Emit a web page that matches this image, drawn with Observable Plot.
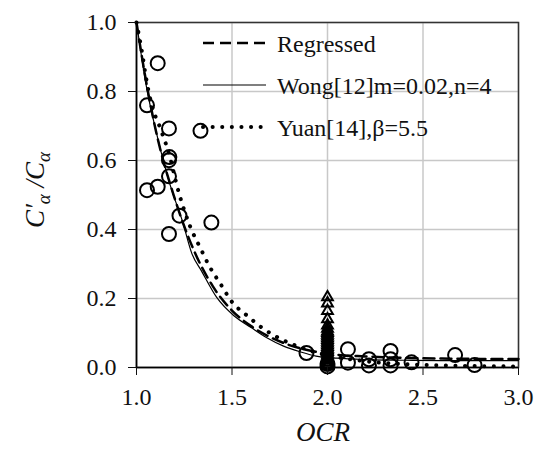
<!DOCTYPE html>
<html><head><meta charset="utf-8">
<script src="https://cdn.jsdelivr.net/npm/d3@7"></script>
<script src="https://cdn.jsdelivr.net/npm/@observablehq/plot@0.6"></script>
<style>body{margin:0;background:#fff} #chart{width:536px;height:455px} svg text{font-family:'Liberation Serif','Times New Roman',serif}</style>
</head><body><div id="chart"></div>
<script>
// Measured circles (OCR, ratio)
const circleX = [1.111,1.055,1.170,1.335,1.170,1.172,1.170,1.055,1.111,1.225,1.170,1.392,1.890,2.107,2.107,2.217,2.217,2.330,2.330,2.330,2.440,2.668,2.770,2.0,2.0];
const circleY = [0.882,0.760,0.693,0.686,0.601,0.610,0.554,0.514,0.524,0.440,0.387,0.420,0.042,0.053,0.014,0.024,0.006,0.048,0.024,0.006,0.015,0.036,0.007,0.010,0.003];
// Measured triangles at OCR = 2.0
const triX = [2.0,2.0,2.0,2.0,2.0,2.0,2.0,2.0,2.0,2.0,2.0,2.0,2.0,2.0,2.0,2.0,2.0,2.0,2.0,2.0,2.0,2.0,2.0,2.0,2.0,2.0,2.0];
const triY = [0.204,0.186,0.164,0.140,0.122,0.113,0.105,0.100,0.095,0.090,0.085,0.080,0.075,0.070,0.065,0.060,0.055,0.050,0.045,0.040,0.035,0.030,0.025,0.020,0.015,0.010,0.005];
// Curves
const regX = [1.0,1.05,1.1,1.2,1.3,1.4,1.5,1.6,1.7,1.8,1.9,2.0,2.2,2.4,2.6,2.8,3.0];
const regY = [1.0,0.83,0.69,0.49,0.34,0.235,0.165,0.12,0.088,0.065,0.05,0.04,0.032,0.028,0.026,0.025,0.025];
const wongX = [1.0,1.05,1.11,1.18,1.24,1.29,1.34,1.42,1.51,1.60,1.68,1.77,1.86,1.94,2.05,2.2,2.4,2.6,2.8,3.0];
const wongY = [1.0,0.82,0.667,0.522,0.425,0.33,0.28,0.203,0.15,0.116,0.087,0.062,0.045,0.033,0.027,0.023,0.021,0.020,0.020,0.020];
const yuanX = [1.0,1.03,1.05,1.08,1.12,1.17,1.22,1.28,1.34,1.38,1.44,1.5,1.58,1.66,1.75,1.85,1.95,2.05,2.2,2.4,2.6,2.8,3.0];
const yuanY = [1.0,0.91,0.84,0.76,0.70,0.62,0.51,0.41,0.34,0.295,0.242,0.19,0.15,0.114,0.084,0.06,0.042,0.03,0.018,0.01,0.006,0.004,0.003];
const xTicks = [1.0,1.5,2.0,2.5,3.0];
const yTicks = [0.0,0.2,0.4,0.6,0.8,1.0];
const legendLabels = ["Regressed","Wong[12]m=0.02,n=4","Yuan[14],β=5.5"];

const circles = circleX.map((x,i)=>({x, y: circleY[i]}));
const tris = triX.map((x,i)=>({x, y: triY[i]}));
const reg = regX.map((x,i)=>({x, y: regY[i]}));
const wong = wongX.map((x,i)=>({x, y: wongY[i]}));
const yuan = yuanX.map((x,i)=>({x, y: yuanY[i]}));

const serif = "'Liberation Serif', 'Times New Roman', serif";
const W = 536, H = 455;
const plot = Plot.plot({
  width: W, height: H,
  marginLeft: 136, marginRight: 18, marginTop: 22, marginBottom: 88,
  style: {fontFamily: serif, fontSize: "24px", color: "#111", background: "#fff"},
  x: {domain: [1,3]},
  y: {domain: [0,1]},
  marks: [
    Plot.gridX(xTicks, {stroke: "#c8c8c8", strokeOpacity: 1, strokeWidth: 1.5}),
    Plot.gridY(yTicks, {stroke: "#c8c8c8", strokeOpacity: 1, strokeWidth: 1.5}),
    Plot.frame({stroke: "#333", strokeWidth: 1.5}),
    Plot.line(reg, {x: "x", y: "y", curve: "monotone-x", stroke: "#000", strokeWidth: 2.5, strokeDasharray: "11,6"}),
    Plot.line(wong, {x: "x", y: "y", curve: "monotone-x", stroke: "#000", strokeWidth: 1.2}),
    Plot.line(yuan, {x: "x", y: "y", curve: "monotone-x", stroke: "#000", strokeWidth: 4, strokeDasharray: "0.1,9.5", strokeLinecap: "round"}),
    Plot.dot(tris, {x: "x", y: "y", symbol: "triangle", r: 4, stroke: "#000", strokeWidth: 2, fill: "none"}),
    Plot.dot(circles, {x: "x", y: "y", r: 7, stroke: "#000", strokeWidth: 2, fill: "none"}),
    Plot.ruleX([1], {stroke: "#000", strokeWidth: 1.5}),
    Plot.ruleY([0], {stroke: "#000", strokeWidth: 1.5}),
    Plot.axisX({ticks: xTicks, tickFormat: d3.format(".1f"), tickSize: 8, tickPadding: 12, label: null, fontSize: 24, fontFamily: serif}),
    Plot.axisY({ticks: yTicks, tickFormat: d3.format(".1f"), tickSize: 8, tickPadding: 12, label: null, fontSize: 24, fontFamily: serif})
  ]
});
document.getElementById("chart").appendChild(plot);

const svg = d3.select(plot);
// Legend
const lg = svg.append("g").attr("font-family", serif).attr("font-size", 24).attr("fill", "#111").attr("text-anchor", "start");
const ly = [43, 85, 127];
const styles = [
  {w: 2.5, dash: "11,6", cap: "butt"},
  {w: 1.2, dash: null, cap: "butt"},
  {w: 4, dash: "0.1,9.5", cap: "round"}
];
legendLabels.forEach((t,i)=>{
  const l = lg.append("line").attr("x1", 203).attr("x2", 266).attr("y1", ly[i]).attr("y2", ly[i])
    .attr("stroke", "#000").attr("stroke-width", styles[i].w).attr("stroke-linecap", styles[i].cap);
  if (styles[i].dash) l.attr("stroke-dasharray", styles[i].dash);
  lg.append("text").attr("x", 277).attr("y", ly[i] + 9).attr("text-anchor", "start").text(t);
});
// X label
svg.append("text").attr("x", 323).attr("y", 441).attr("text-anchor", "middle")
  .attr("font-family", serif).attr("font-style", "italic").attr("font-size", 27).attr("fill", "#111").text("OCR");
// Y label
const yl = svg.append("text").attr("transform", "translate(44,190) rotate(-90)").attr("text-anchor", "middle")
  .attr("font-family", serif).attr("font-style", "italic").attr("font-size", 27).attr("fill", "#111");
yl.append("tspan").text("C′");
yl.append("tspan").attr("font-size", 19).attr("dy", 6).text("α");
yl.append("tspan").attr("dy", -6).text(" /C");
yl.append("tspan").attr("font-size", 19).attr("dy", 6).text("α");
</script></body></html>
